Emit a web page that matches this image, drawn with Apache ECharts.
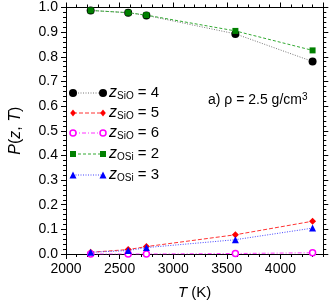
<!DOCTYPE html>
<html><head><meta charset="utf-8">
<script src="https://cdn.jsdelivr.net/npm/echarts@6/dist/echarts.min.js"></script>
<style>html,body{margin:0;padding:0;background:#fff}#c{width:332px;height:305px}</style>
</head><body><div id="c"></div>
<script>
var temps = [2230, 2580, 2750, 3580, 4300];
var zSiO4 = [0.988, 0.979, 0.968, 0.893, 0.781];
var zSiO5 = [0.007, 0.018, 0.030, 0.078, 0.133];
var zSiO6 = [0.000, 0.000, 0.000, 0.002, 0.005];
var zOSi2 = [0.988, 0.979, 0.969, 0.905, 0.826];
var zOSi3 = [0.007, 0.014, 0.026, 0.058, 0.105];
var xTicks = [2000, 2500, 3000, 3500, 4000];
var yTicks = [0.0, 0.1, 0.2, 0.3, 0.4, 0.5, 0.6, 0.7, 0.8, 0.9, 1.0];
var legendNames = [['SiO','4'],['SiO','5'],['SiO','6'],['OSi','2'],['OSi','3']];

function pairs(v){ return temps.map(function(t,i){ return [t, v[i]]; }); }
var FONT = 'Liberation Sans, Arial, sans-serif';
var styles = [
  {color:'#000000', line:'#777777', dash:[1,1.5], symbol:'circle', size:8, fill:'#000'},
  {color:'#ff0000', line:'#ff3333', dash:[4,2], symbol:'diamond', size:7, fill:'#ff0000'},
  {color:'#ff00ff', line:'#ff33ff', dash:[4,2,1,2], symbol:'circle', size:6, fill:'#ffffff'},
  {color:'#008000', line:'#33aa33', dash:[3,2], symbol:'rect', size:6, fill:'#008000'},
  {color:'#0000ff', line:'#4444ff', dash:[1,1.5], symbol:'triangle', size:7, fill:'#0000ff'}
];
var datas = [zSiO4, zSiO5, zSiO6, zOSi2, zOSi3];

var series = datas.map(function(d,i){
  var s = styles[i];
  return {
    type:'line', xAxisIndex:0, yAxisIndex:0, data: pairs(d),
    symbol: s.symbol, symbolSize: s.size, animation:false,
    lineStyle:{color:s.line, width:1, type:s.dash},
    itemStyle:{color:s.fill, borderColor:s.color, borderWidth: i===2?1.5:0},
    z: 2+i
  };
});

var axisCommon = {
  type:'value', min:2000, max:4400, splitLine:{show:false},
  axisLine:{show:true, lineStyle:{color:'#000', width:1}}
};
var xAxes = [
  Object.assign({}, axisCommon, {position:'bottom', interval:500,
    axisTick:{show:true, inside:false, length:5, lineStyle:{color:'#000'}},
    axisLabel:{show:true, margin:8, fontSize:14, color:'#000', fontFamily:FONT,
      showMaxLabel:false,
      formatter:function(v){ return xTicks.indexOf(v)>=0 ? String(v) : ''; }},
    name:'{i|T} (K)', nameLocation:'middle', nameGap:31,
    nameTextStyle:{fontSize:15, color:'#000', fontFamily:FONT, rich:{i:{fontStyle:'italic', fontSize:15, fontFamily:FONT}}}
  }),
  Object.assign({}, axisCommon, {position:'bottom', interval:100, axisLine:{show:false},
    axisTick:{show:true, length:3, lineStyle:{color:'#000'}}, axisLabel:{show:false}}),
  Object.assign({}, axisCommon, {position:'top', interval:500,
    axisTick:{show:true, length:5, lineStyle:{color:'#000'}}, axisLabel:{show:false}}),
  Object.assign({}, axisCommon, {position:'top', interval:100, axisLine:{show:false},
    axisTick:{show:true, length:3, lineStyle:{color:'#000'}}, axisLabel:{show:false}})
];
var yCommon = {
  type:'value', min:0, max:1, interval:0.1, splitLine:{show:false},
  axisLine:{show:true, lineStyle:{color:'#000', width:1}},
  axisTick:{show:true, length:5, lineStyle:{color:'#000'}},
  minorTick:{show:true, splitNumber:5, length:3, lineStyle:{color:'#000'}}
};
var yAxes = [
  Object.assign({}, yCommon, {position:'left',
    axisLabel:{show:true, margin:8, fontSize:14, color:'#000', fontFamily:FONT,
      formatter:function(v){ return (Math.round(v*10)/10).toFixed(1); }},
    name:'{i|P}({i|z}, {i|T})', nameLocation:'middle', nameGap:42, nameRotate:90,
    nameTextStyle:{fontSize:16, color:'#000', fontFamily:FONT, rich:{i:{fontStyle:'italic', fontSize:16, fontFamily:FONT}}}
  }),
  Object.assign({}, yCommon, {position:'right', axisLabel:{show:false}})
];

// legend drawn with graphics
var graphics = [];
var rowY = [93, 113, 133, 154, 175];
var x1 = 73, x2 = 103;
function markerShape(s, cx, cy){
  var st = {fill:s.fill, stroke:s.color, lineWidth: s.fill==='#ffffff'?1.5:0};
  var r = s.size/2;
  if (s.symbol==='circle') return {type:'circle', shape:{cx:cx, cy:cy, r:r}, style:st, z:10};
  if (s.symbol==='rect') return {type:'rect', shape:{x:cx-r, y:cy-r, width:2*r, height:2*r}, style:st, z:10};
  if (s.symbol==='triangle') return {type:'polygon', shape:{points:[[cx,cy-r],[cx+r,cy+r],[cx-r,cy+r]]}, style:st, z:10};
  return {type:'polygon', shape:{points:[[cx,cy-r],[cx+r*0.8,cy],[cx,cy+r],[cx-r*0.8,cy]]}, style:st, z:10};
}
legendNames.forEach(function(n,i){
  var s = styles[i], y = rowY[i];
  graphics.push({type:'line', shape:{x1:x1, y1:y, x2:x2, y2:y}, style:{stroke:s.line, lineWidth:1, lineDash:s.dash}, z:9});
  graphics.push(markerShape(s, x1, y));
  graphics.push(markerShape(s, x2, y));
  graphics.push({type:'text', x:109, y:y, z:10, style:{
    text:'{z|z}{s|'+n[0]+'}{n| = '+n[1]+'}', verticalAlign:'middle', align:'left',
    rich:{
      z:{fontSize:16, fontStyle:'italic', fontFamily:FONT, fill:'#000', lineHeight:16, verticalAlign:'middle'},
      s:{fontSize:10, fontFamily:FONT, fill:'#000', lineHeight:10, padding:[15,0,0,0], verticalAlign:'bottom'},
      n:{fontSize:15, fontFamily:FONT, fill:'#000', lineHeight:16, verticalAlign:'middle'}
    }}});
});
graphics.push({type:'text', x:208, y:100, z:10, style:{
  text:'{a|a) ρ = 2.5 g/cm}{b|3}', verticalAlign:'middle', align:'left',
  rich:{
    a:{fontSize:14, fontFamily:FONT, fill:'#000', lineHeight:16, verticalAlign:'middle'},
    b:{fontSize:10, fontFamily:FONT, fill:'#000', lineHeight:10, padding:[0,0,10,0], verticalAlign:'top'}
  }}});

var chart = echarts.init(document.getElementById('c'), null, {renderer:'canvas'});
chart.setOption({
  animation:false,
  backgroundColor:'#ffffff',
  grid:{left:52.5, right:8.7, top:7.5, bottom:43.3, containLabel:false},
  xAxis:xAxes, yAxis:yAxes, series:series, graphic:graphics
});
</script></body></html>
